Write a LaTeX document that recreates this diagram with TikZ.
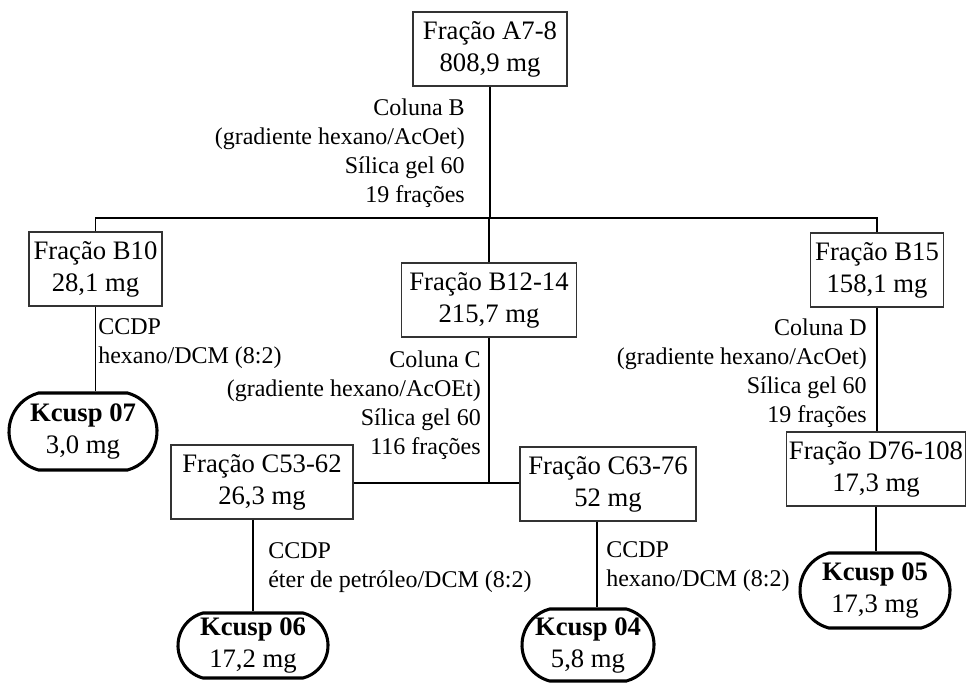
\documentclass[tikz,border=0pt]{standalone}
\usepackage{fontspec}
\setmainfont{Liberation Serif}
\usetikzlibrary{shapes.misc}
\begin{document}
\begin{tikzpicture}[x=0.75pt,y=-0.75pt,
  fbox/.style={draw=black!80, line width=0.8pt, fill=white, align=center, inner sep=0pt,
    minimum height=55.5pt, font=\fontsize{20}{24}\selectfont},
  kbox/.style={draw=black, line width=2.3pt, rounded rectangle, rounded rectangle arc length=150,
    fill=white, align=center, inner sep=0pt, font=\fontsize{20}{24}\selectfont},
  lbl/.style={inner sep=0pt, font=\fontsize{18}{21.75}\selectfont},
  conn/.style={line width=1.1pt, draw=black}]
\useasboundingbox (0,0) rectangle (967,682);
\coordinate (hb) at (490,218);
\coordinate (hc) at (490,483);
% nodes
\node[fbox, minimum width=115.5pt] (A) at (490,49) {Fração A7-8\\808,9 mg};
\node[fbox, minimum width=99.75pt] (B10) at (95.5,269) {Fração B10\\28,1 mg};
\node[fbox, minimum width=131.25pt] (B12) at (489,300) {Fração B12-14\\215,7 mg};
\node[fbox, minimum width=99.75pt] (B15) at (877,270) {Fração B15\\158,1 mg};
\node[fbox, minimum width=136.5pt] (C53) at (262,482) {Fração C53-62\\26,3 mg};
\node[fbox, minimum width=132pt] (C63) at (608,484) {Fração C63-76\\52 mg};
\node[fbox, minimum width=134.25pt] (D76) at (876,469) {Fração D76-108\\17,3 mg};
\node[kbox, minimum width=111pt, minimum height=57.75pt] (K07) at (83,431.5) {\textbf{Kcusp 07}\\3,0 mg};
\node[kbox, minimum width=112.5pt, minimum height=48.75pt] (K06) at (253,645.5) {\textbf{Kcusp 06}\\17,2 mg};
\node[kbox, minimum width=99pt, minimum height=54pt] (K04) at (588,645) {\textbf{Kcusp 04}\\5,8 mg};
\node[kbox, minimum width=112.5pt, minimum height=56.25pt] (K05) at (875,590.5) {\textbf{Kcusp 05}\\17,3 mg};
% connectors
\draw[conn] (A.south) -- (A.south|-hb);
\draw[conn] (B10.north) -- (B10.north|-hb) -- (B15.north|-hb) -- (B15.north);
\draw[conn] (B12.north) -- (B12.north|-hb);
\draw[conn] (B12.south) -- (B12.south|-hc);
\draw[conn] (C53.east|-hc) -- (C63.west|-hc);
\draw[conn] (B10.south) -- (B10.south|-K07.north);
\draw[conn] (K06.north|-C53.south) -- (K06.north);
\draw[conn] ([xshift=-8.25pt]C63.south) -- ([xshift=-8.25pt]C63.south|-K04.north);
\draw[conn] (B15.south) -- (B15.south|-D76.north);
\draw[conn] (D76.south) -- (D76.south|-K05.north);
% labels
\node[lbl, align=right, anchor=east] (LB) at (465,153.5) {Coluna B\\(gradiente hexano/AcOet)\\Sílica gel 60\\19 frações};
\node[lbl, align=right, anchor=east] (LC) at (481,405.5) {Coluna C\\(gradiente hexano/AcOEt)\\Sílica gel 60\\116 frações};
\node[lbl, align=right, anchor=east] (LD) at (867,373.5) {Coluna D\\(gradiente hexano/AcOet)\\Sílica gel 60\\19 frações};
\node[lbl, align=left, anchor=west] (L1) at (98,344) {CCDP\\hexano/DCM (8:2)};
\node[lbl, align=left, anchor=west] (L2) at (268,568) {CCDP\\éter de petróleo/DCM (8:2)};
\node[lbl, align=left, anchor=west] (L3) at (606,567) {CCDP\\hexano/DCM (8:2)};
\end{tikzpicture}
\end{document}
